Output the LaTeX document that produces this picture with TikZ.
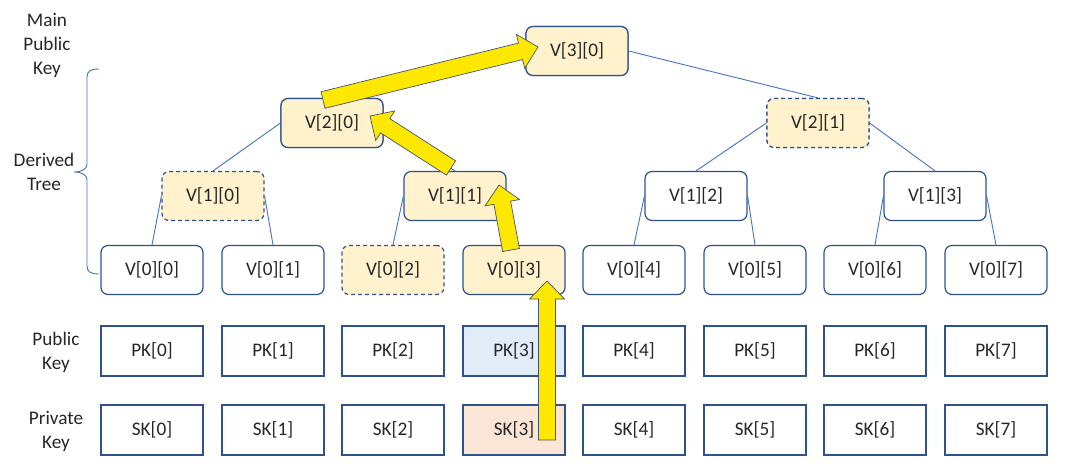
\documentclass[tikz,border=0pt]{standalone}
\usepackage{fontspec}
\setmainfont{Carlito}
\usetikzlibrary{calc}
\definecolor{nodeborder}{HTML}{2F528F}
\definecolor{edgeblue}{HTML}{4472C4}
\definecolor{yfill}{HTML}{FFF2CC}
\definecolor{pkfill}{HTML}{E2ECF8}
\definecolor{skfill}{HTML}{FBE5D6}
\definecolor{arrowyellow}{HTML}{FFE800}
\definecolor{arrowline}{HTML}{44546A}
\definecolor{txt}{HTML}{262626}
\tikzset{
  vbox/.style={draw=nodeborder, line width=1.2pt, rounded corners=7pt, fill=white,
    minimum width=102pt, minimum height=49pt, inner sep=0pt, text=txt,
    font=\fontsize{19.2}{24}\selectfont},
  vyel/.style={vbox, fill=yfill},
  vdash/.style={vyel, dash pattern=on 4pt off 3pt},
  kbox/.style={draw=nodeborder, line width=1.2pt, fill=white,
    minimum width=102pt, minimum height=50pt, inner sep=0pt, text=txt,
    font=\fontsize{19.2}{24}\selectfont},
  sidelabel/.style={align=center, text=txt, inner sep=0pt,
    font=\fontsize{19.2}{24}\selectfont},
  edge/.style={draw=edgeblue, line width=0.9pt},
  fat/.style={fill=arrowyellow, draw=arrowline, line width=0.7pt, line join=miter}
}
\newcommand{\fatarrow}[2]{%
  \path[fat] ($(#1)!8.5pt!-90:(#2)$)
    -- ($($(#2)!18pt!(#1)$)!8.5pt!90:(#1)$)
    -- ($($(#2)!18pt!(#1)$)!17.5pt!90:(#1)$)
    -- (#2)
    -- ($($(#2)!18pt!(#1)$)!17.5pt!-90:(#1)$)
    -- ($($(#2)!18pt!(#1)$)!8.5pt!-90:(#1)$)
    -- ($(#1)!8.5pt!90:(#2)$) -- cycle;}
\begin{document}
\begin{tikzpicture}[x=1pt,y=-1pt]
\useasboundingbox (0,0) rectangle (1067,475);
\fill[white] (0,0) rectangle (1067,475);

% side labels
\node[sidelabel] (lmain) at (47,45) {Main\\Public\\Key};
\node[sidelabel] (lderived) at (44,172) {Derived\\Tree};
\node[sidelabel] (lpublic) at (56,352) {Public\\Key};
\node[sidelabel] (lprivate) at (56,431) {Private\\Key};

% brace
\draw[edgeblue, line width=0.9pt]
  (99,69) .. controls (91,69) and (87,71) .. (87,77) -- (87,164)
  .. controls (87,169) and (82,172) .. (74,172)
  .. controls (82,172) and (87,175) .. (87,180) -- (87,266)
  .. controls (87,272) and (91,274) .. (99,274);

% coordinates of nodes
\coordinate (c30) at (577,51);
\coordinate (c20) at (332,123);
\coordinate (c21) at (818,123);

% tree nodes
\node[vyel] (v30) at (c30) {V[3][0]};
\node[vyel] (v20) at (c20) {V[2][0]};
\node[vdash] (v21) at (c21) {V[2][1]};
\node[vdash] (v10) at (213,196) {V[1][0]};
\node[vyel] (v11) at (455,196) {V[1][1]};
\node[vbox] (v12) at (696,196) {V[1][2]};
\node[vbox] (v13) at (935,196) {V[1][3]};
\node[vbox] (v00) at (152,270) {V[0][0]};
\node[vbox] (v01) at (273,270) {V[0][1]};
\node[vdash] (v02) at (393,270) {V[0][2]};
\node[vyel] (v03) at (514,270) {V[0][3]};
\node[vbox] (v04) at (634,270) {V[0][4]};
\node[vbox] (v05) at (755,270) {V[0][5]};
\node[vbox] (v06) at (875,270) {V[0][6]};
\node[vbox] (v07) at (996,270) {V[0][7]};

% edges
\begin{scope}[on background layer/.style={}]
\draw[edge] (v30.west) -- (v20.north);
\draw[edge] (v30.east) -- (v21.north);
\draw[edge] (v20.west) -- (v10.north);
\draw[edge] (v20.east) -- (v11.north);
\draw[edge] (v21.west) -- (v12.north);
\draw[edge] (v21.east) -- (v13.north);
\draw[edge] (v10.west) -- (v00.north);
\draw[edge] (v10.east) -- (v01.north);
\draw[edge] (v11.west) -- (v02.north);
\draw[edge] (v11.east) -- (v03.north);
\draw[edge] (v12.west) -- (v04.north);
\draw[edge] (v12.east) -- (v05.north);
\draw[edge] (v13.west) -- (v06.north);
\draw[edge] (v13.east) -- (v07.north);
\end{scope}

% key boxes
\node[kbox] (pk0) at (152,351) {PK[0]};
\node[kbox] (pk1) at (273,351) {PK[1]};
\node[kbox] (pk2) at (393,351) {PK[2]};
\node[kbox, fill=pkfill] (pk3) at (514,351) {PK[3]};
\node[kbox] (pk4) at (634,351) {PK[4]};
\node[kbox] (pk5) at (755,351) {PK[5]};
\node[kbox] (pk6) at (875,351) {PK[6]};
\node[kbox] (pk7) at (996,351) {PK[7]};
\node[kbox] (sk0) at (152,430) {SK[0]};
\node[kbox] (sk1) at (273,430) {SK[1]};
\node[kbox] (sk2) at (393,430) {SK[2]};
\node[kbox, fill=skfill] (sk3) at (514,430) {SK[3]};
\node[kbox] (sk4) at (634,430) {SK[4]};
\node[kbox] (sk5) at (755,430) {SK[5]};
\node[kbox] (sk6) at (875,430) {SK[6]};
\node[kbox] (sk7) at (996,430) {SK[7]};

% redraw tree nodes over edges
\node[vyel] at (c30) {V[3][0]};
\node[vyel] at (c20) {V[2][0]};
\node[vdash] at (c21) {V[2][1]};

% fat yellow arrows
\coordinate (a1s) at (547,440);
\coordinate (a1e) at (547,281);
\coordinate (a2s) at (511,250);
\coordinate (a2e) at (499,185);
\coordinate (a3s) at (451,168);
\coordinate (a3e) at (370,116);
\coordinate (a4s) at (323,100);
\coordinate (a4e) at (538,47);
\fatarrow{a1s}{a1e}
\fatarrow{a2s}{a2e}
\fatarrow{a3s}{a3e}
\fatarrow{a4s}{a4e}
\end{tikzpicture}
\end{document}
